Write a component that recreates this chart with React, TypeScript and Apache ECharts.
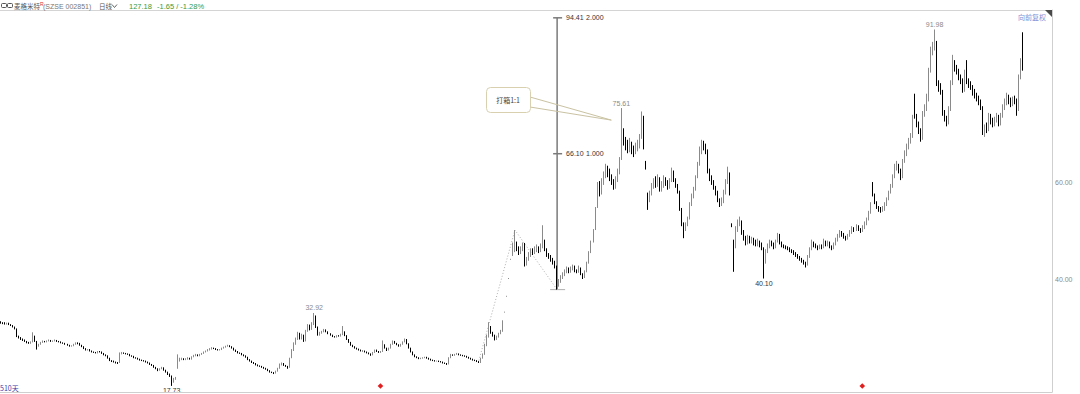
import React, { useEffect, useRef } from "react";
import * as echarts from "echarts";

// [open, close, low, high] per trading day (forward-adjusted)
const seg1 = [
  [31.0,30.9,30.7,31.2],[30.9,30.8,30.6,31.0],[30.8,30.7,30.5,31.0],[30.6,30.8,30.5,30.9],[30.8,30.5,30.4,30.9],
  [30.5,30.3,30.2,30.6],[30.3,30.0,29.9,30.4],[30.0,29.7,29.5,30.1],[29.6,28.0,27.9,29.7],[28.0,27.8,27.6,28.2],
  [27.8,27.5,27.3,27.9],[27.5,27.3,27.1,27.6],[27.3,27.0,26.9,27.4],[27.0,26.8,26.6,27.1],[26.8,26.7,26.5,26.9],
  [26.6,26.9,26.5,27.0],[26.9,28.2,26.8,28.9],[28.0,27.0,26.9,28.2],[27.0,26.0,25.3,27.1],[26.0,26.4,25.9,26.5],
  [26.4,26.8,26.3,26.9],[26.8,27.0,26.7,27.2],[27.0,26.9,26.8,27.1],[26.9,27.1,26.8,27.2],[27.1,27.2,27.0,27.4],
  [27.2,27.0,26.9,27.3],[27.0,27.1,26.9,27.2],[27.1,27.2,27.0,27.4],[27.2,27.0,26.9,27.3],[27.0,26.9,26.8,27.1],
  [26.9,26.7,26.6,27.0],[26.7,26.6,26.5,26.8],[26.6,26.4,26.3,26.7],[26.4,26.2,26.1,26.5],[26.2,26.0,25.9,26.3],
  [26.0,26.1,25.9,26.2],[26.1,26.4,26.0,26.5],[26.4,26.7,26.3,26.8],[26.7,26.6,26.4,26.8],[26.6,26.2,26.1,26.7],
  [26.2,25.9,25.8,26.3],[25.9,25.5,25.4,26.0],[25.5,25.2,25.1,25.6],[25.2,25.3,25.1,25.4],[25.3,25.0,24.9,25.4],
  [25.0,24.8,24.7,25.1],[24.8,24.7,24.6,24.9],[24.7,24.6,24.5,24.8],[24.6,24.9,24.5,25.0],[24.9,24.8,24.7,25.0],
  [24.8,24.5,24.4,24.9],[24.5,24.2,24.1,24.6],[24.2,24.0,23.9,24.3],[24.0,23.5,23.4,24.1],[23.5,23.0,22.9,23.6],
  [23.0,22.9,22.7,23.1],[22.9,22.7,22.6,23.0],[22.7,22.6,22.4,22.8],[22.6,22.5,22.3,22.7],[22.6,24.4,22.5,24.7],
];
const seg2 = [
  [24.4,24.6,24.3,24.8],[24.6,24.5,24.4,24.7],[24.5,24.4,24.3,24.6],[24.4,24.3,24.2,24.5],[24.3,24.0,23.9,24.4],
  [24.0,23.9,23.8,24.1],[23.9,23.6,23.5,24.0],[23.6,23.5,23.4,23.7],[23.5,23.3,23.2,23.6],[23.3,23.1,23.0,23.4],
  [23.1,23.0,22.9,23.2],[23.0,22.9,22.8,23.1],[22.9,22.7,22.6,23.0],[22.7,22.5,22.4,22.8],[22.5,22.2,22.1,22.6],
  [22.2,22.0,21.9,22.3],[22.0,21.6,21.5,22.1],[21.6,21.3,21.2,21.7],[21.3,21.0,20.8,21.4],[21.0,21.3,20.9,21.4],
  [21.3,21.5,21.2,21.7],[21.5,21.0,20.9,21.6],[21.0,20.6,20.5,21.1],[20.6,20.2,20.0,20.7],[20.2,19.8,19.6,20.3],
  [19.8,18.6,17.73,19.9],[18.6,19.2,18.4,19.4],[19.2,19.4,19.0,19.6],[21.4,23.0,21.3,24.3],[23.0,23.3,22.8,23.6],
  [23.3,23.4,23.1,23.6],[23.4,23.2,23.1,23.5],[23.2,23.3,23.1,23.5],[23.3,23.5,23.2,23.7],[23.5,23.3,23.2,23.6],
  [23.3,23.8,23.2,23.9],[23.8,24.0,23.7,24.2],[24.0,24.2,23.9,24.4],[24.2,24.0,23.9,24.3],[24.0,24.3,23.9,24.4],
  [24.3,24.5,24.2,24.6],[24.5,24.8,24.4,24.9],[24.8,25.0,24.7,25.1],[25.0,25.2,24.9,25.4],[25.2,25.4,25.1,25.6],
];
const seg3 = [
  [25.4,25.6,25.3,25.8],[25.6,25.5,25.4,25.7],[25.5,25.3,25.2,25.6],[25.3,25.2,25.1,25.4],[25.2,25.3,25.1,25.4],
  [25.3,25.6,25.2,25.7],[25.6,25.8,25.5,25.9],[25.8,26.0,25.7,26.1],[26.0,26.1,25.9,26.3],[26.1,25.9,25.8,26.2],
  [25.9,25.6,25.5,26.0],[25.6,25.2,25.1,25.7],[25.2,24.9,24.8,25.3],[24.9,24.6,24.5,25.0],[24.6,24.5,24.4,24.7],
  [24.5,24.2,24.1,24.6],[24.2,24.0,23.9,24.3],[24.0,23.7,23.6,24.1],[23.7,23.2,23.1,23.8],[23.2,22.9,22.8,23.3],
  [22.9,22.6,22.5,23.0],[22.6,22.4,22.3,22.7],[22.4,22.1,22.0,22.5],[22.1,21.9,21.8,22.2],[21.9,21.8,21.7,22.0],
  [21.8,21.6,21.5,21.9],[21.6,21.4,21.3,21.7],[21.4,21.2,21.1,21.5],[21.2,20.9,20.8,21.3],[20.9,20.6,20.5,21.0],
  [20.6,20.5,20.4,20.7],[20.5,20.4,20.2,20.6],[20.4,20.8,20.3,20.9],[20.8,21.4,20.7,21.5],[21.4,22.2,21.3,22.4],
  [22.2,22.4,22.0,22.6],[22.4,22.0,21.9,22.5],[22.0,21.8,21.7,22.1],[21.8,21.5,21.3,21.9],[21.6,23.5,21.5,23.6],
  [23.6,25.2,23.5,25.4],[25.2,26.5,25.0,26.8],[26.5,27.5,26.3,27.8],[27.5,28.6,27.3,29.0],[28.6,27.6,27.4,28.8],
  [27.6,28.3,27.4,28.6],[28.3,27.2,26.9,28.4],[27.2,29.2,27.0,29.4],[29.2,30.2,29.0,30.6],[30.2,29.5,29.3,30.5],
  [29.5,30.6,29.4,31.0],[30.6,32.4,30.4,32.92],[32.2,30.0,29.8,32.4],[30.0,28.4,28.2,30.1],[28.4,28.8,28.2,29.0],
  [28.8,29.0,28.6,29.2],[29.0,29.4,28.9,29.6],[29.4,29.0,28.9,29.5],[29.0,28.6,28.5,29.1],[28.6,28.3,28.2,28.7],
  [28.3,28.0,27.9,28.4],[28.0,27.9,27.8,28.1],[27.9,28.2,27.8,28.3],[28.2,28.1,28.0,28.3],[28.1,28.4,28.0,28.6],
  [28.4,29.0,28.3,30.2],[29.0,28.2,28.1,29.1],[28.2,27.4,27.3,28.3],[27.4,26.8,26.7,27.5],[26.8,26.2,26.1,26.9],
  [26.2,25.9,25.8,26.3],[25.9,25.6,25.5,26.0],[25.6,25.4,25.3,25.7],[25.4,25.2,25.1,25.5],[25.2,25.0,24.9,25.3],
  [25.0,25.0,24.8,25.2],[25.0,24.8,24.7,25.1],[24.8,24.6,24.5,24.9],[24.6,24.4,24.3,24.7],[24.4,24.2,24.0,24.5],
  [24.2,24.7,24.1,24.8],[24.7,25.2,24.6,25.3],[25.2,24.9,24.8,25.3],[24.9,24.7,24.6,25.0],[24.7,24.9,24.6,25.0],
  [24.9,26.3,24.8,27.2],[26.3,25.6,25.5,26.4],[25.6,25.2,25.0,25.7],[25.2,25.6,25.1,25.7],[25.6,26.4,25.5,26.5],
  [26.4,27.0,26.3,27.2],[27.0,26.6,26.5,27.1],[26.6,26.3,26.2,26.7],[26.3,26.0,25.9,26.4],[26.0,26.4,25.9,26.5],
  [26.4,26.9,26.3,27.0],[26.9,27.4,26.8,27.6],[27.4,26.5,26.4,27.5],[26.5,25.6,25.5,26.6],[25.6,24.8,24.7,25.7],
  [24.8,24.2,24.1,24.9],[24.2,23.8,23.7,24.3],[23.8,23.6,23.5,23.9],[23.6,23.4,23.3,23.7],[23.4,23.5,23.3,23.6],
];
const seg4 = [
  [23.5,23.6,23.4,23.7],[23.6,23.7,23.5,23.8],[23.7,23.5,23.4,23.8],[23.5,23.3,23.2,23.6],[23.3,23.1,23.0,23.4],
  [23.1,23.0,22.9,23.2],[23.0,22.9,22.8,23.1],[22.9,22.9,22.8,23.0],[22.9,22.8,22.7,23.0],[22.8,22.7,22.6,22.9],
  [22.7,22.5,22.4,22.8],[22.5,22.4,22.3,22.6],[22.4,22.3,22.1,22.5],[22.3,23.6,22.2,23.7],[23.6,24.2,23.5,24.4],
  [24.2,24.1,24.0,24.3],[24.1,24.3,24.0,24.4],[24.3,24.4,24.2,24.6],[24.4,24.2,24.1,24.5],[24.2,24.1,24.0,24.3],
  [24.1,24.0,23.9,24.2],[24.0,23.9,23.8,24.1],[23.9,23.7,23.6,24.0],[23.7,23.5,23.4,23.8],[23.5,23.3,23.2,23.6],
  [23.3,23.1,23.0,23.4],[23.1,23.0,22.9,23.2],[23.0,22.8,22.7,23.1],[22.8,22.6,22.5,22.9],[22.6,23.5,22.5,23.6],
  [23.5,24.3,23.4,24.5],[24.3,26.2,24.2,26.5],[26.2,28.0,26.0,28.4],[28.0,30.0,27.8,31.0],[30.0,28.8,28.6,30.2],
  [28.8,28.3,28.0,29.0],[28.3,27.4,27.2,28.4],[27.4,28.0,27.3,28.2],[28.0,28.6,27.8,28.8],[28.6,29.2,28.5,29.4],
  [29.2,30.2,29.0,31.4],[33.0,33.2,33.0,33.2],[36.3,36.5,36.3,36.5],[40.0,40.2,40.0,40.2],[44.0,44.2,44.0,44.2],
];
const seg5 = [
  [46.0,46.2,44.8,47.6],[46.4,47.0,45.6,50.2],[47.0,46.5,45.8,47.8],[46.5,45.6,45.0,46.8],[45.6,46.2,45.2,46.8],
  [46.2,47.0,45.8,47.6],[47.3,43.0,42.6,47.5],[43.0,44.2,42.8,44.6],[44.2,45.0,43.8,45.6],[45.0,45.8,44.6,46.4],
  [45.8,45.6,45.0,46.4],[45.6,46.0,45.2,46.8],[46.0,46.5,45.6,47.2],[46.5,45.8,45.4,46.8],[45.8,46.8,45.6,47.4],
  [46.8,48.0,46.4,51.2],[48.0,46.2,45.8,48.2],[46.2,45.0,44.6,46.4],[45.0,44.6,44.2,45.4],[44.6,44.0,43.6,45.0],
  [44.0,43.4,43.0,44.4],[43.4,42.6,42.2,43.8],[42.6,38.6,37.79,42.8],[38.6,39.6,38.4,40.0],[39.6,40.3,39.2,40.8],
  [40.3,40.8,40.0,41.4],[40.8,41.6,40.6,42.0],[41.6,42.2,41.2,42.6],[42.2,41.5,41.2,42.4],[41.5,42.2,41.3,42.6],
  [42.2,42.6,41.8,43.0],[42.6,41.7,41.4,42.8],[41.7,41.5,41.2,42.0],[41.5,42.3,41.3,42.8],[42.3,41.0,40.8,42.4],
  [41.0,40.3,40.0,41.2],[40.3,41.5,40.2,41.8],[41.5,43.3,41.4,43.6],[43.3,45.5,43.2,45.8],[45.5,47.8,45.4,48.0],
  [47.8,50.0,47.6,50.4],[50.4,55.0,50.2,55.0],[55.0,59.5,54.8,60.2],[59.6,58.0,57.2,60.4],[58.0,60.2,57.6,61.0],
  [60.2,61.6,59.6,62.4],[61.6,62.4,61.0,64.0],[62.4,62.2,61.2,63.6],[62.4,61.0,60.4,63.0],[61.0,60.2,59.6,61.8],
  [60.2,59.2,58.6,60.8],[59.2,60.5,58.8,61.4],[60.5,62.0,60.2,63.0],[62.0,64.6,61.8,65.4],[65.0,70.8,64.8,75.61],
  [70.8,68.6,67.8,71.4],[68.6,67.6,66.8,69.6],[67.6,67.2,66.2,69.0],[67.2,68.0,66.4,69.4],[68.0,66.8,66.0,68.6],
  [66.8,66.6,65.4,67.8],[66.6,67.4,66.0,68.4],[67.4,68.0,66.6,69.0],[68.0,69.5,67.2,70.2],[69.5,73.8,69.2,74.9],
  [73.8,67.5,67.0,74.0],[64.4,63.4,62.8,64.6],
];
const seg6 = [
  [57.6,56.6,54.4,58.0],[56.6,57.8,56.0,58.4],[57.8,59.2,57.4,60.0],[59.2,60.2,58.8,61.0],[60.2,59.6,59.0,61.4],
  [59.6,61.0,59.2,61.8],[61.0,58.6,58.2,61.2],[58.6,59.5,58.2,60.4],[59.5,60.8,59.0,61.6],[60.8,60.0,59.4,61.2],
  [60.0,59.0,58.6,60.6],[59.0,60.5,58.8,61.0],[60.5,62.2,60.2,63.2],[62.2,60.6,60.2,62.6],[60.6,59.4,59.0,61.0],
  [59.4,58.2,57.8,59.8],[58.2,54.5,54.2,58.4],[54.5,51.5,51.0,54.8],[51.5,50.6,48.5,51.8],[50.6,51.2,50.0,51.8],
  [51.2,52.5,51.0,53.0],[52.5,55.6,52.4,56.0],[55.6,57.2,55.2,57.8],[57.2,58.6,56.8,59.2],[58.6,61.3,58.4,61.6],
  [61.3,64.0,61.0,64.4],[64.0,66.4,63.6,67.6],[66.4,68.3,66.0,69.0],[68.3,67.6,66.8,68.8],[67.6,66.8,66.0,68.2],
  [66.8,62.4,62.0,67.0],[62.4,61.0,60.4,63.0],[61.0,60.3,59.6,61.6],[60.3,59.0,58.6,60.6],[59.0,58.0,57.4,59.4],
  [58.0,56.4,56.0,58.4],[56.4,55.8,55.0,56.8],[55.8,56.2,55.2,57.0],[56.2,58.0,55.8,58.6],[58.0,60.2,57.6,60.8],
  [60.2,62.0,59.8,63.4],[62.0,57.8,57.4,62.2],
];
const seg7 = [
  [51.4,51.0,50.8,51.6],[47.8,46.8,41.5,48.2],[46.8,50.4,46.4,51.0],[50.4,51.6,49.8,52.4],[51.6,52.0,51.0,53.0],
  [52.0,49.6,49.2,52.2],[49.6,48.6,48.0,50.2],[48.6,47.5,47.0,49.0],[47.5,48.6,47.2,49.2],[48.6,48.0,47.4,49.0],
  [48.0,48.2,47.4,48.8],[48.2,47.8,47.0,48.6],[47.8,47.4,46.8,48.2],[47.4,47.8,46.8,48.4],[47.8,47.2,46.6,48.0],
  [47.2,46.4,46.0,47.6],[46.4,43.6,40.10,46.6],[43.6,45.8,43.2,46.2],[45.8,46.8,45.4,47.4],[46.8,47.6,46.4,48.2],
  [47.6,47.2,46.8,48.0],[47.2,46.6,46.2,47.6],[46.6,47.8,46.4,48.2],[47.8,49.2,47.6,49.6],[49.2,47.6,47.2,49.4],
  [47.6,47.0,46.6,47.8],[47.0,46.8,46.4,47.2],[46.8,46.6,46.2,47.0],[46.6,46.4,46.0,46.8],[46.4,46.0,45.6,46.6],
  [46.0,45.8,45.4,46.2],[45.8,45.4,45.0,46.0],[45.4,45.0,44.6,45.6],[45.0,44.6,44.2,45.2],[44.6,44.2,43.8,44.8],
  [44.2,43.8,43.4,44.4],[43.8,43.4,43.0,44.0],[43.4,42.9,42.4,43.6],[42.9,44.6,42.8,45.0],[44.6,46.2,44.4,46.6],
  [46.2,47.6,46.0,48.2],[47.6,47.1,46.6,47.8],[47.1,46.8,46.4,47.4],[46.8,46.5,46.0,47.0],[46.5,46.9,46.2,47.2],
  [46.9,46.7,46.2,47.2],[46.7,47.8,46.4,48.4],[47.8,47.2,46.8,48.0],[47.2,47.5,46.8,48.0],[47.5,46.8,46.4,47.8],
  [46.8,46.5,46.0,47.0],[46.5,47.2,46.2,47.6],[47.2,48.2,47.0,48.6],[48.2,49.0,47.8,49.4],[49.0,49.6,48.6,50.2],
  [49.6,49.3,48.8,50.0],[49.3,48.8,48.4,49.6],[48.8,48.4,48.0,49.0],[48.4,49.0,48.2,49.4],[49.0,49.7,48.8,50.2],
  [49.7,50.5,49.4,51.0],[50.5,50.2,49.8,50.8],[50.2,50.9,50.0,51.4],[50.9,50.4,50.0,51.2],[50.4,50.0,49.6,50.6],
  [50.0,50.7,49.8,51.2],[50.7,51.5,50.4,52.0],
];
const seg8 = [
  [51.5,52.4,51.2,52.8],[52.4,53.8,52.2,54.2],[53.8,55.6,53.6,56.0],[59.6,57.6,57.2,60.2],[57.6,56.0,55.6,57.8],
  [56.0,55.0,54.6,56.2],[55.0,54.6,54.0,55.2],[54.6,54.3,53.8,55.0],[54.3,54.5,54.0,55.2],[54.5,55.5,54.2,56.0],
  [55.5,56.6,55.2,57.0],[56.6,58.0,56.4,58.4],[58.0,59.3,57.8,59.8],[59.3,61.3,59.0,61.8],[61.3,63.2,61.0,64.0],
  [63.2,63.6,62.6,64.6],[63.6,62.6,62.0,64.0],[62.6,61.3,60.6,63.0],[61.3,64.6,61.0,65.0],[64.6,66.0,64.2,66.8],
  [66.0,67.5,65.6,68.2],[67.5,68.8,67.0,69.4],[68.8,69.7,68.2,70.4],[69.7,73.6,69.4,74.2],[77.6,73.8,73.4,78.6],
  [73.8,72.4,71.6,74.4],[72.4,71.0,70.2,72.8],[71.0,69.2,68.6,71.4],[69.2,74.4,69.0,75.0],[74.4,75.6,73.8,76.4],
  [75.6,77.3,75.0,78.6],[77.3,83.4,77.0,84.0],[83.4,87.5,83.0,88.4],[87.5,88.4,86.6,89.4],[88.4,89.4,87.6,91.98],
  [89.2,80.6,80.2,89.6],[80.6,80.0,79.0,81.4],[80.0,79.2,78.4,80.8],[79.2,74.6,74.0,79.4],[74.6,73.6,72.8,75.2],
  [73.6,72.6,71.8,74.0],[72.6,75.4,72.2,76.0],[75.4,80.7,75.0,81.4],[80.7,85.0,80.4,86.7],[85.0,84.0,83.2,85.6],
  [84.0,83.4,82.6,84.6],[83.4,82.0,81.4,83.8],[82.0,81.4,80.6,82.6],[81.4,79.4,78.8,81.8],[79.4,83.2,79.0,83.6],
  [85.2,81.0,80.6,85.6],[81.0,80.6,79.8,81.8],[80.6,80.0,79.4,81.2],[80.0,78.8,78.2,80.4],[78.8,78.4,77.6,79.6],
  [78.4,77.8,77.0,78.8],[77.8,76.9,76.2,78.2],[76.9,75.8,75.2,77.4],[75.8,70.6,70.0,76.0],[70.6,71.4,69.6,72.2],
  [71.4,71.2,70.4,72.6],[71.2,73.8,70.8,74.6],[73.8,73.0,72.2,74.4],[73.0,72.4,71.6,73.6],[72.4,73.0,71.8,73.8],
  [73.0,73.8,72.6,74.6],[73.8,72.4,71.8,74.2],[72.4,74.0,72.0,74.6],[74.0,75.6,73.6,76.4],[75.6,76.7,75.2,77.6],
  [76.7,77.9,76.2,78.8],[77.9,77.2,76.4,78.4],[77.2,76.6,75.8,77.8],[76.6,77.4,76.0,78.0],[77.4,77.2,76.4,78.2],
  [77.2,75.2,74.0,77.6],[75.2,82.0,75.0,82.6],[82.0,85.0,81.6,86.0],[86.2,85.4,83.4,91.4],
];

const candles = [...seg1, ...seg2, ...seg3, ...seg4, ...seg5, ...seg6, ...seg7, ...seg8];
const emptyDaysRight = 14;
const categories = [
  ...candles.map((_, i) => `D${i + 1}`),
  ...Array.from({ length: emptyDaysRight }, (_, i) => `E${i + 1}`),
];

const yLabelValues = [40, 60];
const yMin = 16.46;
const yMax = 96.04;

// extreme-price labels: [day index, price, text, side]
const extremeLabels: [number, number, string, "top" | "bottom"][] = [
  [85, 17.73, "17.73", "bottom"],
  [156, 32.92, "32.92", "top"],
  [309, 75.61, "75.61", "top"],
  [380, 40.1, "40.10", "bottom"],
  [465, 91.98, "91.98", "top"],
];

// measuring tool: day index and levels [price, ratio]
const toolDay = 277;
const toolLevels: [number, string][] = [
  [94.41, "2.000"],
  [66.1, "1.000"],
];
const toolBase = 37.79;

// dotted trend line points [day index, price]
const trendPoints: [number, number][] = [
  [238, 23.0],
  [256, 50.2],
  [277, 37.79],
];

// event markers (day indices)
const eventDays = [189, 429];

const FONT = '"Liberation Sans", "Noto Sans CJK SC", sans-serif';
const CJK = '"Noto Sans CJK SC", "Liberation Sans", sans-serif';

function txt(x: number, y: number, text: string, fill: string, size: number, align = "left", family = FONT) {
  return {
    type: "text",
    x,
    y,
    silent: true,
    style: {
      text,
      fill,
      fontSize: size,
      fontFamily: family,
      align,
      textAlign: align,
      verticalAlign: "middle",
      textVerticalAlign: "middle",
    },
  };
}

export default function App() {
  const ref = useRef<HTMLDivElement>(null);
  useEffect(() => {
    const chart = echarts.init(ref.current!, null, { renderer: "svg" });
    chart.setOption({
      animation: false,
      backgroundColor: "#ffffff",
      grid: { left: 0, right: 28, top: 10, bottom: 2, containLabel: false },
      xAxis: {
        type: "category",
        data: categories,
        boundaryGap: true,
        axisLine: { show: true, lineStyle: { color: "#cfcfcf", width: 1 } },
        axisTick: { show: false },
        axisLabel: { show: false },
        splitLine: { show: false },
      },
      yAxis: {
        type: "value",
        position: "right",
        min: yMin,
        max: yMax,
        scale: true,
        axisLine: { show: true, lineStyle: { color: "#cfcfcf", width: 1 } },
        axisTick: { show: false },
        splitLine: { show: false },
        axisLabel: {
          customValues: yLabelValues,
          formatter: (v: number) => v.toFixed(2),
          color: "#8a8a8a",
          fontSize: 7,
          fontFamily: FONT,
          margin: 3,
        },
      },
      series: [
        {
          type: "candlestick",
          data: candles,
          barWidth: 1,
          silent: true,
          itemStyle: {
            color: "#ffffff",
            color0: "#000000",
            borderColor: "#8a8a8a",
            borderColor0: "#000000",
            borderWidth: 1,
          },
        },
      ],
    });

    const px = (i: number, v: number) => chart.convertToPixel({ gridIndex: 0 }, [i, v]) as number[];
    const els: any[] = [];

    // frame top line and corner mark
    els.push({ type: "line", silent: true, shape: { x1: 0, y1: 10.5, x2: 1052, y2: 10.5 }, style: { stroke: "#d4d4d4", lineWidth: 1 } });
    els.push({ type: "polygon", silent: true, shape: { points: [[1045, 10], [1052, 10], [1052, 17]] }, style: { fill: "#4a4a4a" } });

    // header
    els.push({ type: "rect", silent: true, shape: { x: 1.5, y: 3.5, width: 5, height: 4, r: 1 }, style: { fill: "none", stroke: "#555", lineWidth: 1 } });
    els.push({ type: "rect", silent: true, shape: { x: 7.5, y: 3.5, width: 5, height: 4, r: 1 }, style: { fill: "none", stroke: "#555", lineWidth: 1 } });
    els.push(txt(14, 6, "麦格米特", "#555555", 6.5, "left", CJK));
    els.push(txt(40, 3.5, "R", "#e03030", 5, "left"));
    els.push(txt(43, 6, "(SZSE 002851)", "#777777", 7, "left"));
    els.push(txt(99, 6, "日线", "#555555", 6.5, "left", CJK));
    els.push({ type: "polyline", silent: true, shape: { points: [[112, 4.5], [114.5, 7.5], [117, 4.5]] }, style: { stroke: "#666", lineWidth: 1, fill: "none" } });
    els.push(txt(129, 6, "127.18", "#3a9a3a", 7.5, "left"));
    els.push(txt(157, 6, "-1.65 / -1.28%", "#3a9a3a", 7.5, "left"));

    // corner labels
    els.push(txt(1046, 17, "向前复权", "#7b8fd6", 7, "right", CJK));
    els.push(txt(0, 388, "510天", "#3c3ca8", 7, "left", CJK));

    // dotted trend lines
    els.push({
      type: "polyline",
      silent: true,
      shape: { points: trendPoints.map(([i, v]) => px(i, v)) },
      style: { stroke: "#9a9a9a", lineWidth: 0.8, lineDash: [1, 2], fill: "none" },
    });

    // measuring tool
    const tTop = px(toolDay, toolLevels[0][0]);
    const tBase = px(toolDay, toolBase);
    els.push({ type: "line", silent: true, shape: { x1: tTop[0], y1: tTop[1], x2: tBase[0], y2: tBase[1] }, style: { stroke: "#7a7a7a", lineWidth: 1.5 } });
    els.push({ type: "line", silent: true, shape: { x1: tBase[0] - 7, y1: tBase[1], x2: tBase[0] + 8, y2: tBase[1] }, style: { stroke: "#b0b0b0", lineWidth: 1 } });
    toolLevels.forEach(([v, r]) => {
      const p = px(toolDay, v);
      els.push({ type: "line", silent: true, shape: { x1: p[0] - 4, y1: p[1], x2: p[0] + 5, y2: p[1] }, style: { stroke: "#7a7a7a", lineWidth: 1.5 } });
      els.push(txt(p[0] + 9, p[1], v.toFixed(2), "#333333", 7, "left"));
      els.push(txt(p[0] + 29, p[1], r, "#333333", 7, "left"));
    });

    // callout
    const tip = px(304, 73.1);
    els.push({ type: "line", silent: true, shape: { x1: 530, y1: 97, x2: tip[0], y2: tip[1] }, style: { stroke: "#c9c2a2", lineWidth: 1 } });
    els.push({ type: "line", silent: true, shape: { x1: 530, y1: 107, x2: tip[0], y2: tip[1] }, style: { stroke: "#c9c2a2", lineWidth: 1 } });
    els.push({ type: "rect", silent: true, shape: { x: 486.5, y: 87.5, width: 44, height: 25, r: 4 }, style: { fill: "#ffffff", stroke: "#d8d0ae", lineWidth: 1 } });
    els.push(txt(508, 100, "打箱1:1", "#444444", 7, "center", CJK));

    // extreme labels
    extremeLabels.forEach(([i, v, t, side]) => {
      const p = px(i, v);
      const top = side === "top";
      els.push(txt(p[0], top ? p[1] - 5 : p[1] + 5, t, top ? "#8a8a8a" : "#333333", 7, "center"));
    });

    // event markers
    eventDays.forEach((i) => {
      const p = px(i, yMin);
      const y = 386;
      els.push({ type: "polygon", silent: true, shape: { points: [[p[0], y - 2.8], [p[0] + 2.8, y], [p[0], y + 2.8], [p[0] - 2.8, y]] }, style: { fill: "#e02020" } });
    });

    chart.setOption({ graphic: els });
    return () => chart.dispose();
  }, []);
  return (
    <div
      ref={ref}
      style={{ position: "fixed", left: 0, top: 0, width: 1080, height: 394, background: "#ffffff" }}
    />
  );
}
